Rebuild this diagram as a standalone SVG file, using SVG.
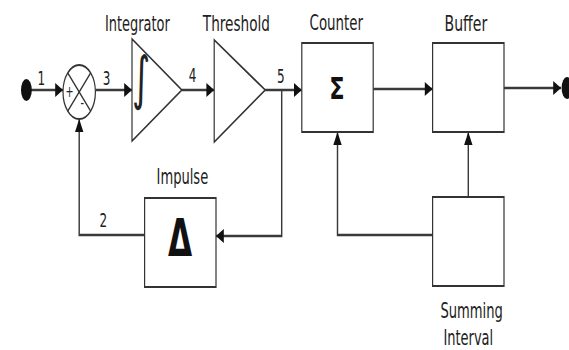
<svg xmlns="http://www.w3.org/2000/svg" width="569" height="350" viewBox="0 0 569 350">
<style>
.sh{fill:#fff;stroke:#333;stroke-width:2}
.cn{fill:none;stroke:#3a3a3a;stroke-width:2.4}
.t{font-family:"DejaVu Sans","Liberation Sans",sans-serif;font-size:22px;fill:#222}
.n{font-family:"DejaVu Sans","Liberation Sans",sans-serif;font-size:20px;fill:#222;text-anchor:middle}
.b{font-family:"DejaVu Sans","Liberation Sans",sans-serif;font-weight:bold;fill:#111;text-anchor:middle}
</style>
<defs>
<marker id="ah" markerUnits="userSpaceOnUse" markerWidth="13" markerHeight="14" refX="13" refY="7" orient="auto" overflow="visible">
<path d="M0,0 L13,7 L0,14 z" fill="#111"/>
</marker>
</defs>
<rect width="569" height="350" fill="#fff"/>
<g transform="scale(0.6 1)">
<g id="connectors">
<line class="cn" x1="44" y1="90" x2="105" y2="90" marker-end="url(#ah)"/>
<line class="cn" x1="159" y1="90" x2="220" y2="90" marker-end="url(#ah)"/>
<line class="cn" x1="303" y1="90" x2="357" y2="90" marker-end="url(#ah)"/>
<line class="cn" x1="442" y1="90" x2="503" y2="90" marker-end="url(#ah)"/>
<line class="cn" x1="622" y1="89" x2="721" y2="89" marker-end="url(#ah)"/>
<line class="cn" x1="840" y1="88" x2="935" y2="88" marker-end="url(#ah)"/>
<polyline class="cn" points="469.5,90 469.5,236 360,236" marker-end="url(#ah)"/>
<polyline class="cn" points="241,235 132,235 132,119" marker-end="url(#ah)"/>
<polyline class="cn" points="721,235 562.5,235 562.5,132" marker-end="url(#ah)"/>
<line class="cn" x1="780.5" y1="197" x2="780.5" y2="132" marker-end="url(#ah)"/>
<text class="n" x="69" y="85">1</text>
<text class="n" x="177.5" y="85">3</text>
<text class="n" x="321" y="82">4</text>
<text class="n" x="468" y="83">5</text>
<text class="n" x="172" y="227">2</text>
</g>
<g id="input"><ellipse cx="44" cy="90" rx="9" ry="11" fill="#111"/></g>
<g id="output"><ellipse cx="945" cy="88" rx="9" ry="11" fill="#111"/></g>
<g id="sum">
<circle class="sh" cx="132" cy="92" r="27"/>
<line x1="112.9" y1="72.9" x2="151.1" y2="111.1" stroke="#333" stroke-width="2"/>
<line x1="151.1" y1="72.9" x2="112.9" y2="111.1" stroke="#333" stroke-width="2"/>
<text class="n" x="116" y="97" style="font-size:16px">+</text>
<text class="n" x="137" y="108" style="font-size:16px">-</text>
</g>
<g id="integrator">
<polygon class="sh" points="220,39 220,141 303,90"/>
<text class="n" x="235" y="98" style="font-size:58px">∫</text>
<text class="t" x="175" y="31" textLength="108" lengthAdjust="spacingAndGlyphs">Integrator</text>
</g>
<g id="threshold">
<polygon class="sh" points="357,40 357,142 442,90"/>
<text class="t" x="338" y="31" textLength="112" lengthAdjust="spacingAndGlyphs">Threshold</text>
</g>
<g id="counter">
<rect class="sh" x="503" y="43" width="119" height="89"/>
<text class="t" x="516" y="30" textLength="89" lengthAdjust="spacingAndGlyphs">Counter</text>
</g>
<g id="buffer">
<rect class="sh" x="721" y="43" width="119" height="89"/>
<text class="t" x="741" y="31" textLength="71" lengthAdjust="spacingAndGlyphs">Buffer</text>
</g>
<g id="impulse">
<rect class="sh" x="241" y="198" width="119" height="89"/>
<text class="b" x="300" y="256" style="font-size:52px">Δ</text>
<text class="t" x="261" y="184" textLength="86" lengthAdjust="spacingAndGlyphs">Impulse</text>
</g>
<g id="interval">
<rect class="sh" x="721" y="197" width="119" height="89"/>
<text class="t" x="734" y="318" textLength="104" lengthAdjust="spacingAndGlyphs">Summing</text>
<text class="t" x="739" y="345" textLength="83" lengthAdjust="spacingAndGlyphs">Interval</text>
</g>
</g>
<text class="b" transform="translate(337 99) scale(0.75 1)" x="0" y="0" style="font-size:30px">Σ</text>
</svg>
